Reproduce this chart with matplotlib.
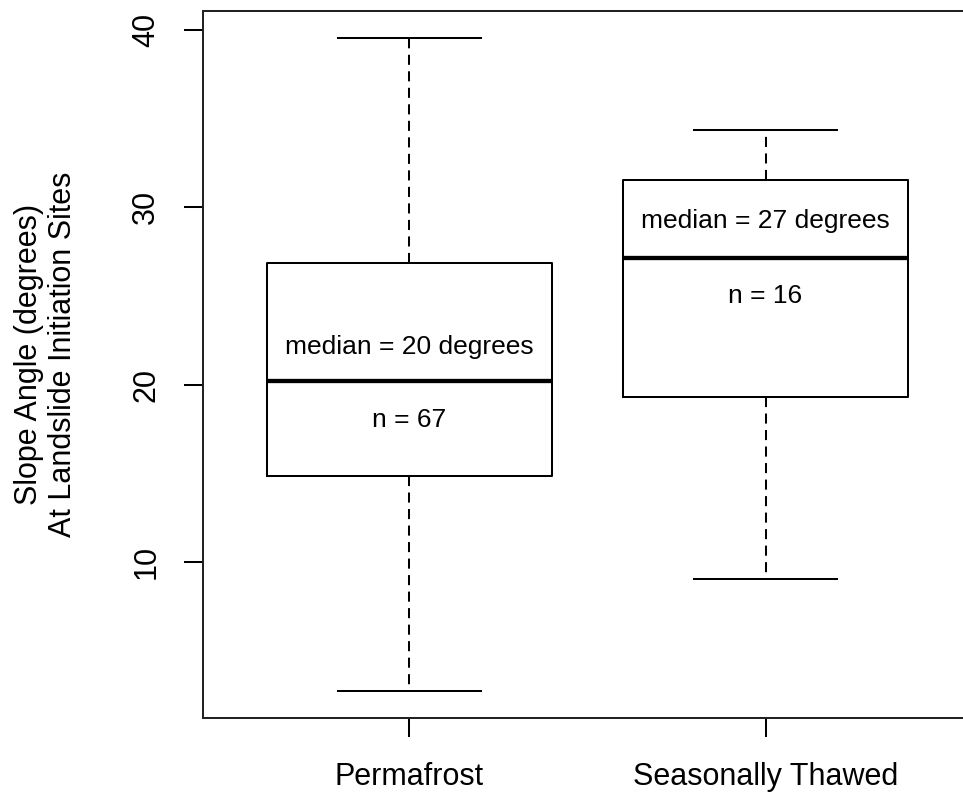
import matplotlib
matplotlib.use("Agg")
import matplotlib.pyplot as plt

plt.rcParams["font.family"] = ["Liberation Sans", "DejaVu Sans"]

# five-number summaries of slope angle (degrees) per ground condition
groups = ["Permafrost", "Seasonally Thawed"]
whisker_low = [2.75, 9.05]
box_low = [14.85, 19.3]
medians = [20.2, 27.15]
box_high = [26.85, 31.55]
whisker_high = [39.55, 34.35]
counts = [67, 16]
median_labels = [20, 27]

# where the annotation text sits in data units
median_text_y = [22.1, 29.2]
n_text_y = [18.0, 25.0]

stats = []
for i, g in enumerate(groups):
    stats.append(dict(label=g, whislo=whisker_low[i], q1=box_low[i], med=medians[i],
                      q3=box_high[i], whishi=whisker_high[i], fliers=[]))

fig = plt.figure(figsize=(9.63, 7.94), dpi=100)
ax = fig.add_axes([203 / 963, 1 - 718 / 794, (972 - 203) / 963, (718 - 11) / 794])

lw = 1.45
ax.bxp(stats, positions=[1, 2], widths=0.8, capwidths=0.4, showfliers=False,
       boxprops=dict(color="black", lw=lw),
       whiskerprops=dict(color="black", lw=lw, dashes=(5.0, 3.2)),
       capprops=dict(color="black", lw=lw),
       medianprops=dict(color="black", lw=3.1, solid_capstyle="butt"))

for i in range(len(groups)):
    ax.text(i + 1, median_text_y[i], f"median = {median_labels[i]} degrees",
            ha="center", va="center", fontsize=19)
    ax.text(i + 1, n_text_y[i], f"n = {counts[i]}", ha="center", va="center", fontsize=19)

ax.set_xlim(0.42, 2.58)
ax.set_ylim(1.22, 41.05)
ax.set_yticks([10, 20, 30, 40])
ax.set_yticklabels(["10", "20", "30", "40"], rotation=90, va="center")
ax.set_xticks([1, 2])
ax.set_xticklabels(groups)
ax.tick_params(axis="both", labelsize=22, length=14, width=lw, color="black")
ax.tick_params(axis="y", pad=16)
ax.tick_params(axis="x", pad=18)
for s in ax.spines.values():
    s.set_linewidth(lw)
    s.set_color("#222222")

fig.text(46 / 963, 1 - 354 / 794, "Slope Angle (degrees)\nAt Landslide Initiation Sites",
         rotation=90, ha="center", va="center", fontsize=22, linespacing=1.17)

fig.savefig("out.png", dpi=100)
